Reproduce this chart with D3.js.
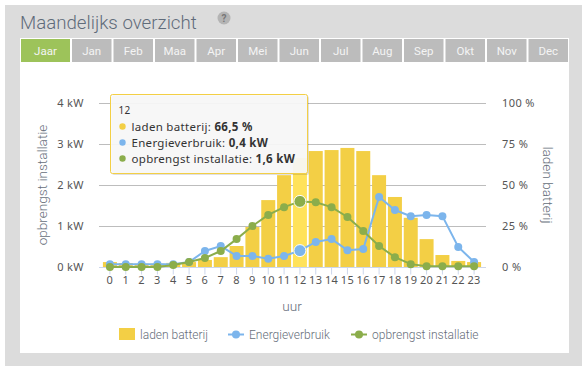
<!DOCTYPE html>
<html>
<head>
<meta charset="utf-8">
<script src="https://cdnjs.cloudflare.com/ajax/libs/d3/7.8.5/d3.min.js"></script>
<style>
html, body { margin: 0; padding: 0; background: #fff; }
svg { display: block; }
text { font-family: Roboto, sans-serif; }
.tick text { font-family: "Noto Sans", sans-serif; font-size: 11px; letter-spacing: 0.4px; fill: #555; }
text.tip-text { font-family: "Noto Sans", sans-serif; font-size: 11.5px; letter-spacing: 0.3px; fill: #333; }
</style>
</head>
<body>
<div id="chart"></div>
<script>
// data
const hours = d3.range(0, 24).map(String);
const months = ['Jaar', 'Jan', 'Feb', 'Maa', 'Apr', 'Mei', 'Jun', 'Jul', 'Aug', 'Sep', 'Okt', 'Nov', 'Dec'];
const kwTicks = [0, 1, 2, 3, 4];
const pctTicks = [0, 25, 50, 75, 100];
const ladenBatterij = [3, 2.4, 2, 2, 2.5, 3, 4.3, 6, 12.8, 24.4, 40.8, 56, 66.5, 70.7, 71.3, 72.6, 70.7, 56, 42.7, 30, 17, 7.3, 3.7, 3];
const energieverbruik = [0.07, 0.07, 0.07, 0.07, 0.07, 0.12, 0.39, 0.51, 0.27, 0.27, 0.2, 0.27, 0.4, 0.61, 0.68, 0.41, 0.44, 1.71, 1.39, 1.24, 1.27, 1.24, 0.49, 0.12];
const opbrengst = [0, 0, 0, 0, 0.05, 0.12, 0.22, 0.39, 0.68, 1, 1.27, 1.46, 1.6, 1.58, 1.46, 1.22, 0.88, 0.51, 0.24, 0.07, 0.02, 0.02, 0.02, 0.02];
const activeHour = 12;

const YELLOW = '#f3cf45', BLUE = '#7cb5ec', GREEN = '#8bad4b', GREY = '#666e7a';

const svg = d3.select('#chart').append('svg').attr('width', 582).attr('height', 366);

// panel
svg.append('rect').attr('x', 5).attr('y', 5).attr('width', 577).attr('height', 361).attr('fill', '#dcdcdc');
svg.append('rect').attr('x', 20).attr('y', 38).attr('width', 549).attr('height', 315).attr('fill', '#fff');

svg.append('text').attr('x', 20).attr('y', 29).attr('font-size', 18.7).attr('font-weight', 300)
    .attr('fill', '#5f6b7a').text('Maandelijks overzicht');
svg.append('circle').attr('cx', 224).attr('cy', 18).attr('r', 6.5).attr('fill', '#b4b4b4');
svg.append('text').attr('x', 224).attr('y', 22).attr('text-anchor', 'middle').attr('font-size', 10)
    .attr('font-weight', 700).attr('fill', '#777').text('?');

// tabs
const tabX = d3.scaleBand().domain(months.slice(1)).range([71, 569]);
months.forEach((m, i) => {
    const x0 = i === 0 ? 21 : tabX(m) + 1;
    const w = i === 0 ? 49 : tabX.bandwidth() - 2;
    svg.append('rect').attr('x', x0).attr('y', 39).attr('width', w).attr('height', 23)
        .attr('fill', i === 0 ? '#9dc35a' : '#bcbcbc');
    svg.append('text').attr('x', x0 + w / 2).attr('y', 55).attr('text-anchor', 'middle')
        .attr('font-size', 11.5).attr('fill', '#f4f4f4').text(m);
});

// scales
const x = d3.scaleBand().domain(hours).range([102, 482]);
const yKw = d3.scaleLinear().domain([0, 4]).range([267, 103]);
const yPct = d3.scaleLinear().domain([0, 100]).range([267, 103]);
const cx = h => x(h) + x.bandwidth() / 2;

// grid
svg.append('g').selectAll('line').data(kwTicks).join('line')
    .attr('x1', 99).attr('x2', 486)
    .attr('y1', d => yKw(d) + 0.5).attr('y2', d => yKw(d) + 0.5)
    .attr('stroke', d => d === 0 ? '#ccd6eb' : '#bdbdbd');

// axes
const axisLeft = svg.append('g').attr('transform', 'translate(99,0)')
    .call(d3.axisLeft(yKw).tickValues(kwTicks).tickFormat(d => d + ' kW').tickSize(0).tickPadding(15));
const axisRight = svg.append('g').attr('transform', 'translate(486,0)')
    .call(d3.axisRight(yPct).tickValues(pctTicks).tickFormat(d => d + ' %').tickSize(0).tickPadding(16));
const axisBottom = svg.append('g').attr('transform', 'translate(0,267.5)')
    .call(d3.axisBottom(x).tickSize(7).tickPadding(2));
axisLeft.select('.domain').remove();
axisRight.select('.domain').remove();
axisBottom.select('.domain').remove();
axisBottom.selectAll('line').attr('stroke', '#ccd6eb');

svg.append('text').attr('transform', 'translate(47,185) rotate(-90)').attr('text-anchor', 'middle')
    .attr('font-size', 13.6).attr('font-weight', 300).attr('fill', GREY).text('opbrengst installatie');
svg.append('text').attr('transform', 'translate(543,185) rotate(90)').attr('text-anchor', 'middle')
    .attr('font-size', 13.6).attr('font-weight', 300).attr('fill', GREY).text('laden batterij');
svg.append('text').attr('x', 292).attr('y', 311).attr('text-anchor', 'middle')
    .attr('font-size', 13.6).attr('font-weight', 300).attr('fill', GREY).text('uur');

// bars
svg.append('g').selectAll('rect').data(ladenBatterij).join('rect')
    .attr('x', (d, i) => cx(hours[i]) - 7)
    .attr('width', 14)
    .attr('y', d => yPct(d))
    .attr('height', d => yPct(0) - yPct(d))
    .attr('fill', (d, i) => i === activeHour ? '#ffe25a' : YELLOW);

// lines
function drawSeries(values, color) {
    const line = d3.line().x((d, i) => cx(hours[i])).y(d => yKw(d));
    svg.append('path').datum(values).attr('d', line).attr('fill', 'none')
        .attr('stroke', color).attr('stroke-width', 2);
    svg.append('g').selectAll('circle').data(values).join('circle')
        .attr('cx', (d, i) => cx(hours[i])).attr('cy', d => yKw(d))
        .attr('r', (d, i) => i === activeHour ? 6 : 4)
        .attr('fill', color)
        .attr('stroke', (d, i) => i === activeHour ? '#fff' : 'none');
}
drawSeries(energieverbruik, BLUE);
drawSeries(opbrengst, GREEN);

// tooltip
const tip = svg.append('g').attr('transform', 'translate(110.5,94.5)');
tip.append('rect').attr('x', 1.5).attr('y', 1.5).attr('width', 197).attr('height', 79).attr('rx', 2)
    .attr('fill', '#000').attr('opacity', 0.12);
tip.append('rect').attr('width', 197).attr('height', 79).attr('rx', 2)
    .attr('fill', '#f9f9f9').attr('fill-opacity', 0.93).attr('stroke', YELLOW).attr('stroke-width', 1);
tip.append('text').attr('class', 'tip-text').attr('x', 8).attr('y', 19).style('font-size', '10px').text(hours[activeHour]);
const tipRows = [
    ['laden batterij: ', '66,5 %', YELLOW],
    ['Energieverbruik: ', '0,4 kW', BLUE],
    ['opbrengst installatie: ', '1,6 kW', GREEN]
];
tipRows.forEach((r, i) => {
    const yy = 36 + i * 16;
    tip.append('circle').attr('cx', 12).attr('cy', yy - 4).attr('r', 3.2).attr('fill', r[2]);
    const t = tip.append('text').attr('class', 'tip-text').attr('x', 21).attr('y', yy);
    t.append('tspan').text(r[0]);
    t.append('tspan').attr('font-weight', 700).text(r[1]);
});

// legend
const lg = svg.append('g');
lg.append('rect').attr('x', 119).attr('y', 328).attr('width', 16).attr('height', 12).attr('fill', YELLOW);
lg.append('text').attr('x', 140).attr('y', 339).attr('font-size', 12).attr('font-weight', 300).attr('fill', GREY).text('laden batterij');
[[228, 'Energieverbruik', BLUE], [351, 'opbrengst installatie', GREEN]].forEach(d => {
    lg.append('line').attr('x1', d[0]).attr('x2', d[0] + 16).attr('y1', 334.5).attr('y2', 334.5)
        .attr('stroke', d[2]).attr('stroke-width', 2);
    lg.append('circle').attr('cx', d[0] + 8).attr('cy', 334.5).attr('r', 4).attr('fill', d[2]);
    lg.append('text').attr('x', d[0] + 21).attr('y', 339).attr('font-size', 12).attr('font-weight', 300)
        .attr('fill', GREY).text(d[1]);
});
</script>
</body>
</html>
